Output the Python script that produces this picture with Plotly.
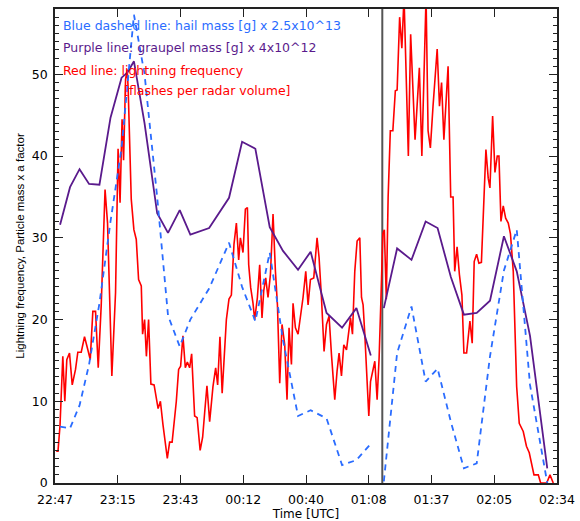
import plotly.graph_objects as go

# Time axis: minutes after 22:47 UTC
tick_labels = ["22:47", "23:15", "23:43", "00:12", "00:40", "01:08", "01:37", "02:05", "02:34"]
tick_minutes = [0, 28.375, 56.75, 85.125, 113.5, 141.875, 170.25, 198.625, 227]

# Radar-volume times (minutes after 22:47); None = gap
volume_times = [2.3, 6.8, 11.1, 15.4, 20.1, 25.1, 30.1, 32.7, 35.7, 40.5, 46.2, 51.1,
                56.4, 61.2, 69.7, 78.7, 84.6, 90.6, 97.1, 103.1, 109.9, 115.6, 122.8,
                129.8, 136.3, 142.8, 145.7, 148.7, 154.7, 161.2, 167.6, 173.0, 179.0,
                184.9, 190.7, 196.7, 203.0, 208.8, 214.8, 222.6]

graupel = [31.6, 36.2, 38.4, 36.6, 36.5, 44.7, 49.6, 50.2, 51.6, 44.0, 33.0, 30.6,
           33.4, 30.4, 31.2, 34.9, 41.75, 40.9, 31.3, 28.4, 26.1, 28.3, 20.8,
           19.0, 21.4, 15.6, None, 21.4, 28.7, 27.3, 32.0, 31.2, 25.2,
           20.6, 20.8, 22.3, 30.2, 25.9, 18.0, 1.8]

hail = [6.9, 6.7, 9.5, 14.5, 22.0, 32.0, 41.0, 49.0, 57.3, 50.0, 35.0, 20.5,
        16.7, 20.0, 23.8, 29.4, 24.0, 19.8, 28.2, 17.5, 8.2, 8.9, 7.9,
        2.2, 2.8, 4.8, None, 0.2, 15.9, 21.6, 12.4, 14.0, 7.5,
        1.8, 2.4, 15.5, 26.0, 31.0, 12.0, 0.0]

# Lightning frequency (flashes per radar volume)
lightning_times = [0.54, 1.36, 2.26, 3.53, 4.44, 5.34, 6.56, 7.79, 9.28, 10.32, 11.86,
                   13.35, 14.85, 15.93, 17.11, 18.33, 19.55, 20.91, 22.63, 23.76, 25.71,
                   27.38, 28.52, 29.42, 30.33, 31.01, 31.91, 32.64, 33.09, 34.49, 35.67,
                   36.75, 37.8, 39.02, 39.61, 40.51, 41.33, 42.32, 43.36, 44.81, 46.62,
                   47.66, 48.79, 50.79, 51.83, 52.96, 54.86, 55.9, 56.81, 57.85, 58.93,
                   59.84, 60.88, 61.79, 63.14, 64.27, 65.63, 66.76, 67.67, 68.71, 69.93,
                   71.43, 72.65, 73.55, 74.59, 75.59, 77.49, 78.67, 79.75, 80.93, 82.02,
                   83.06, 83.83, 85.01, 86.09, 87.0, 87.59, 88.49, 89.53, 90.3, 91.52,
                   92.56, 93.61, 94.38, 95.28, 96.32, 97.41, 98.59, 99.67, 100.58, 101.62,
                   102.66, 103.88, 104.92, 105.83, 106.91, 107.64, 108.72, 109.9, 111.12,
                   112.16, 113.39, 114.43, 115.51, 117.01, 118.5, 119.41, 120.49, 121.67,
                   122.76, 123.93, 125.02, 126.51, 127.55, 128.46, 129.54, 130.59, 131.81,
                   132.85, 133.62, 134.52, 135.56, 136.61, 137.83, 138.6, 139.32, 140.09,
                   140.86, 141.9, 142.67, 143.85, 144.62, 145.66, 146.56, 147.33, 148.24,
                   148.92, 149.82, 150.64, 151.63, 152.77, 153.9, 154.71, 155.84, 156.84,
                   157.83, 159.78, 160.82, 162.81, 164.76, 165.89, 167.79, 168.7, 169.74,
                   170.96, 172.82, 173.86, 174.81, 175.85, 177.75, 178.93, 180.01, 180.74,
                   181.82, 182.87, 184.0, 184.9, 186.12, 187.62, 188.66, 189.56, 190.65,
                   191.69, 192.82, 194.86, 195.9, 196.67, 197.89, 198.94, 199.98, 200.75,
                   201.65, 202.69, 203.78, 204.96, 205.95, 207.22, 208.76, 209.93, 211.74,
                   213.19, 214.46, 216.59, 218.54, 219.62, 222.34, 223.83, 225.32]

lightning = [3.9, 3.9, 7.0, 15.5, 10.0, 15.1, 15.9, 12.0, 13.9, 16.0, 16.0,
             17.9, 16.3, 15.1, 21.0, 21.0, 14.1, 21.8, 35.9, 31.8, 13.1,
             23.3, 40.9, 34.3, 44.5, 39.5, 49.4, 50.6, 48.2, 34.7, 31.0,
             29.8, 24.9, 24.1, 18.2, 20.0, 15.5, 20.0, 12.1, 12.0, 9.1,
             10.0, 7.2, 3.0, 5.0, 5.0, 10.0, 13.9, 14.3, 18.0, 14.1,
             14.8, 14.1, 15.8, 8.2, 8.0, 4.0, 5.6, 8.6, 11.9, 7.5,
             11.8, 14.1, 12.0, 17.9, 11.0, 20.0, 22.5, 23.0, 29.2, 31.8,
             27.3, 30.0, 28.2, 33.5, 33.7, 26.7, 23.9, 22.0, 20.0, 22.7,
             26.7, 20.2, 23.5, 25.1, 22.7, 25.5, 32.9, 25.9, 21.8, 12.2,
             19.4, 16.9, 10.2, 19.0, 14.5, 22.0, 19.0, 18.2, 20.6,
             22.7, 25.9, 21.8, 24.9, 25.1, 30.0, 27.6, 22.7, 16.1,
             19.4, 20.4, 15.7, 10.2, 13.7, 15.9, 13.1, 16.9, 16.3,
             18.6, 20.2, 18.2, 25.9, 29.6, 30.0, 22.7, 21.8, 18.2,
             13.7, 8.2, 12.4, 13.7, 14.9, 10.2, 15.3, 22.0, 30.5,
             31.0, 22.5, 35.0, 43.1, 43.1, 48.0, 48.1, 57.0, 53.2,
             59.5, 40.0, 54.9, 42.0, 50.8, 40.0, 59.5, 43.1, 41.0,
             46.2, 53.1, 46.1, 49.0, 42.0, 51.0, 35.0, 35.0, 25.9,
             28.9, 25.5, 23.0, 15.9, 15.9, 19.8, 17.1, 27.1, 28.0,
             26.9, 27.0, 40.8, 37.3, 36.1, 44.9, 38.0, 40.0, 40.0,
             32.0, 33.9, 32.4, 31.8, 30.5, 25.9, 11.8, 7.3, 6.3,
             4.5, 3.7, 1.0, 1.0, 0.0, 0.0, 1.0, 0.0]

marker_time = [148.0, 148.0]   # vertical reference line (01:15 UTC)
marker_span = [0, 58]

RED = "#ff0000"
PURPLE = "#5a1a8c"
BLUE = "#2a6cff"
TEXT_FONT = "DejaVu Sans"
TITLE_FONT = "Liberation Sans"

fig = go.Figure()
fig.add_trace(go.Scatter(x=marker_time, y=marker_span, mode="lines",
                         line=dict(color="#555555", width=2), hoverinfo="skip"))
fig.add_trace(go.Scatter(x=lightning_times, y=lightning, mode="lines",
                         line=dict(color=RED, width=1.6)))
fig.add_trace(go.Scatter(x=volume_times, y=graupel, mode="lines",
                         line=dict(color=PURPLE, width=1.8), connectgaps=False))
fig.add_trace(go.Scatter(x=volume_times, y=hail, mode="lines",
                         line=dict(color=BLUE, width=1.8, dash="6px,5px"), connectgaps=False))

annotations = [
    ("Blue dashed line: hail mass [g] x 2.5x10^13", BLUE, 0.012, 0.965),
    ("Purple line: graupel mass [g] x 4x10^12", PURPLE, 0.012, 0.918),
    ("Red line: lightning frequency", RED, 0.012, 0.871),
    ("[flashes per radar volume]", RED, 0.133, 0.829),
]
for text, color, ax, ay in annotations:
    fig.add_annotation(text=text, x=ax, y=ay, xref="paper", yref="paper",
                       xanchor="left", yanchor="middle", showarrow=False,
                       font=dict(family=TEXT_FONT, size=12.5, color=color))

fig.update_layout(
    width=580, height=521,
    margin=dict(l=55, r=23, t=9, b=38, autoexpand=False),
    paper_bgcolor="white", plot_bgcolor="white",
    showlegend=False,
    font=dict(family=TEXT_FONT, size=12, color="black"),
)
fig.update_xaxes(
    range=[0, 227], tickvals=tick_minutes, ticktext=tick_labels,
    ticks="inside", ticklen=8, tickwidth=1.3, tickcolor="#222222",
    showline=True, linecolor="#222222", linewidth=1.5, mirror="allticks",
    showgrid=False, zeroline=False, ticklabelstandoff=4,
    tickfont=dict(family=TEXT_FONT, size=12.5, color="black"),
    title=dict(text="Time [UTC]", font=dict(family=TEXT_FONT, size=12, color="black"), standoff=3),
)
fig.update_yaxes(
    range=[0, 58], tickvals=[0, 10, 20, 30, 40, 50],
    ticks="inside", ticklen=8, tickwidth=1.3, tickcolor="#222222",
    minor=dict(ticks="inside", ticklen=4, dtick=1, tickcolor="#222222", tickwidth=1),
    showline=True, linecolor="#222222", linewidth=1.5, mirror="allticks",
    showgrid=False, zeroline=False, ticklabelstandoff=3,
    tickfont=dict(family=TEXT_FONT, size=12.5, color="black"),
    title=dict(text="Lightning frequency, Particle mass x a factor",
               font=dict(family=TITLE_FONT, size=11.5, color="black"), standoff=5),
)

fig.write_html("out.html", config={"displayModeBar": False},
               post_script="document.body.style.margin='0px';document.body.style.padding='0px';")
